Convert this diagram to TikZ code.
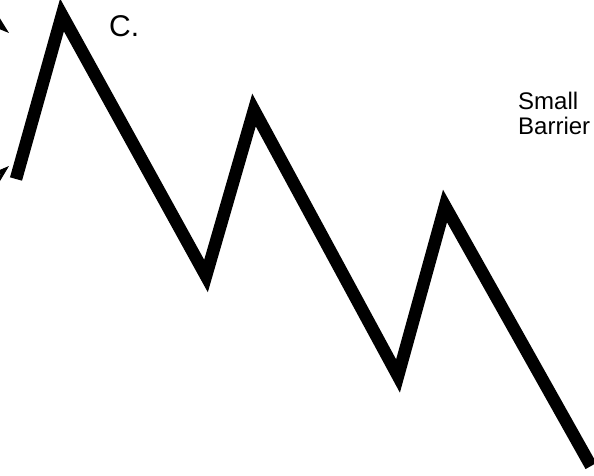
\documentclass[tikz,border=0pt]{standalone}
\usepackage{fontspec}
\setmainfont{Liberation Sans}
\usetikzlibrary{arrows.meta}
\begin{document}
\begin{tikzpicture}[x=1pt,y=-1pt,
  zig/.style={line width=12.5pt,line join=miter,line cap=butt,draw=black},
  arr/.style={line width=1pt,-{Stealth[length=17pt,width=11pt]}},
  lbl/.style={inner sep=0pt,anchor=base west,font=\fontsize{24}{25}\selectfont}]
\useasboundingbox (0,0) rectangle (594,476);
\clip (0,0) rectangle (594,476);
\coordinate (s) at (16,179);
\coordinate (p1) at (62,15);
\coordinate (v1) at (206,276);
\coordinate (p2) at (254,110);
\coordinate (v2) at (398,376);
\coordinate (p3) at (445,206);
\coordinate (e) at (591,466);
\draw[zig] (s) -- (p1) -- (v1) -- (p2) -- (v2) -- (p3) -- (e);
\coordinate (a1s) at (-30,0);
\coordinate (a1e) at (9,33);
\coordinate (a2s) at (-30,200);
\coordinate (a2e) at (9,166);
\draw[arr] (a1s) -- (a1e);
\draw[arr] (a2s) -- (a2e);
\node[lbl,font=\fontsize{30}{30}\selectfont] (c) at (109,37) {C.};
\node[lbl] (b1) at (518,110) {Small};
\node[lbl] (b2) at (518,135) {Barrier};
\end{tikzpicture}
\end{document}
